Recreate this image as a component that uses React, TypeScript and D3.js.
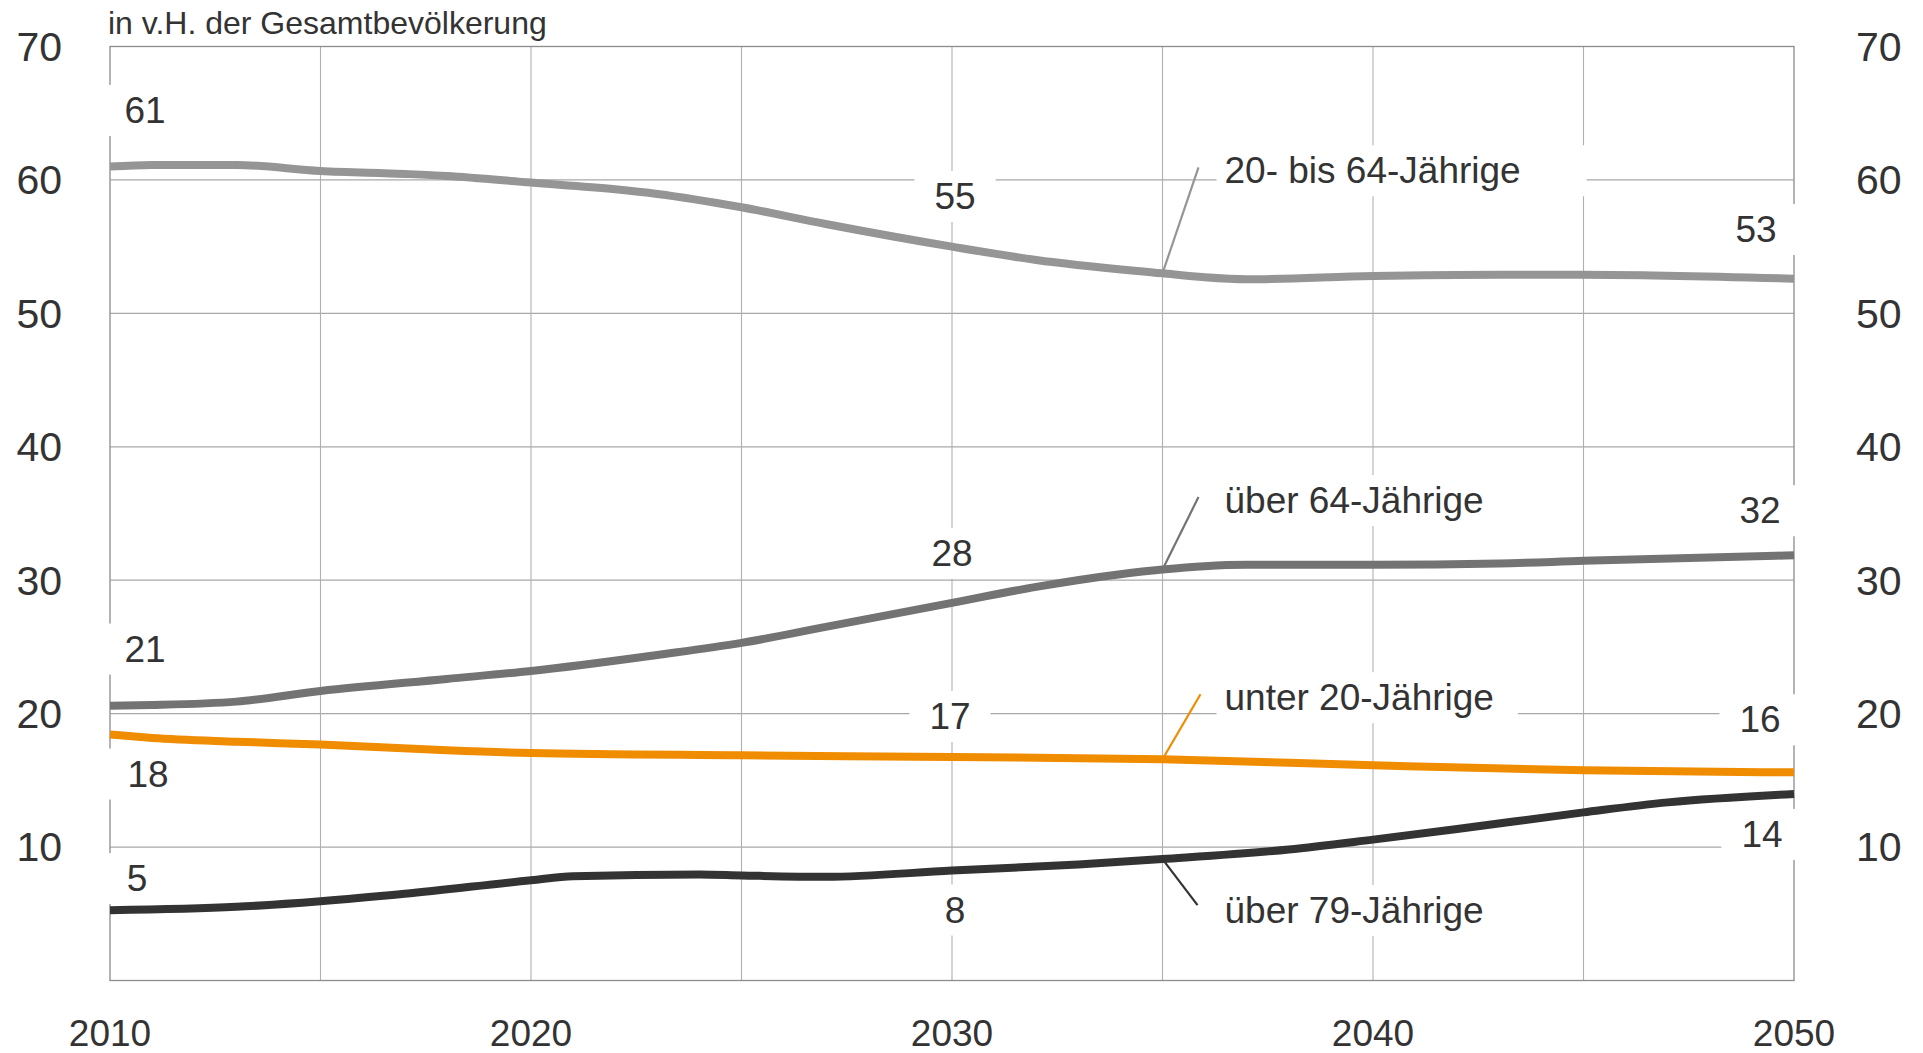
import React, { useEffect, useRef } from "react";
import * as d3 from "d3";

// ---------- DATA ----------
const seriesNames = ["20- bis 64-Jährige", "über 64-Jährige", "unter 20-Jährige", "über 79-Jährige"];
const seriesColors = ["#959595", "#737373", "#f08c00", "#333333"];

const years2064 = [2010, 2011, 2013, 2015, 2017, 2018, 2020, 2022, 2023, 2025, 2027, 2030, 2032, 2035, 2036, 2037, 2040, 2043, 2045, 2050];
const values2064 = [61.0, 61.12, 61.12, 60.67, 60.45, 60.3, 59.8, 59.3, 58.95, 57.95, 56.7, 55.0, 54.0, 53.0, 52.7, 52.55, 52.8, 52.9, 52.9, 52.6];

const years65 = [2010, 2011, 2013, 2015, 2018, 2020, 2023, 2025, 2027, 2030, 2032, 2034, 2035, 2036, 2037, 2040, 2043, 2045, 2050];
const values65 = [20.6, 20.65, 20.9, 21.7, 22.6, 23.2, 24.4, 25.3, 26.5, 28.3, 29.5, 30.45, 30.8, 31.05, 31.15, 31.15, 31.25, 31.45, 31.87];

const years20 = [2010, 2011, 2013, 2015, 2018, 2020, 2025, 2030, 2035, 2040, 2045, 2050];
const values20 = [18.43, 18.18, 17.9, 17.68, 17.25, 17.05, 16.88, 16.75, 16.58, 16.13, 15.75, 15.6];

const years80 = [2010, 2013, 2015, 2017, 2020, 2021, 2024, 2025, 2027, 2030, 2033, 2035, 2038, 2040, 2042, 2045, 2047, 2050];
const values80 = [5.27, 5.52, 5.94, 6.5, 7.51, 7.81, 7.94, 7.87, 7.77, 8.24, 8.7, 9.1, 9.82, 10.56, 11.35, 12.6, 13.35, 13.98];

const seriesYears = [years2064, years65, years20, years80];
const seriesValues = [values2064, values65, values20, values80];

const yTicks = [10, 20, 30, 40, 50, 60, 70];
const yGrid = [10, 20, 30, 40, 50, 60];
const xTickLabels = [2010, 2020, 2030, 2040, 2050];
const xGrid = [2015, 2020, 2025, 2030, 2035, 2040, 2045];

const titleText = "in v.H. der Gesamtbevölkerung";

// data labels: series index, year, text
const dataLabelSeries = [0, 0, 0, 1, 1, 1, 2, 2, 2, 3, 3, 3];
const dataLabelYears = [2010, 2030, 2050, 2010, 2030, 2050, 2010, 2030, 2050, 2010, 2030, 2050];
const dataLabelTexts = ["61", "55", "53", "21", "28", "32", "18", "17", "16", "5", "8", "14"];

// ---------- LAYOUT (placement only) ----------
const W = 1923;
const H = 1053;
const PLOT = { left: 110, right: 1794, top: 46.5, bottom: 980.5 };
const dataLabelOffsets: [number, number][] = [
  [35, -56.6], [3, -50.6], [-38, -49.6],
  [35, -57], [0, -50], [-34, -45],
  [38, 39], [-2, -41], [-34, -53],
  [27, -32], [3, 39], [-32, 40],
];
const seriesLabelYear = 2035;
const seriesLabelDx = 62;
const seriesLabelDy = [-103, -69.5, -62, 51];
const leaderEnd: [number, number][] = [[36, -3], [36, -3], [38, -3], [35, -5]];
const seriesLabelPadRight = [66, 60, 24, 24];

const FONT = "Arial, 'Liberation Sans', Helvetica, sans-serif";
const TEXT = "#333333";

function valueAt(years: number[], values: number[], yr: number) {
  const i = years.indexOf(yr);
  if (i >= 0) return values[i];
  return d3.scaleLinear().domain(years).range(values)(yr);
}

export default function App() {
  const ref = useRef<SVGSVGElement>(null);

  useEffect(() => {
    const svg = d3.select(ref.current);
    svg.selectAll("*").remove();

    const x = d3.scaleLinear().domain([2010, 2050]).range([PLOT.left, PLOT.right]);
    const y = d3.scaleLinear().domain([0, 70]).range([PLOT.bottom, PLOT.top]);

    svg.append("rect").attr("width", W).attr("height", H).attr("fill", "#fff");

    // gridlines
    const g = svg.append("g");
    g.selectAll(".hg").data(yGrid).join("line")
      .attr("x1", PLOT.left).attr("x2", PLOT.right)
      .attr("y1", (d) => y(d)).attr("y2", (d) => y(d))
      .attr("stroke", "#a8a8a8").attr("stroke-width", 1.2);
    g.selectAll(".vg").data(xGrid).join("line")
      .attr("x1", (d) => x(d)).attr("x2", (d) => x(d))
      .attr("y1", PLOT.top).attr("y2", PLOT.bottom)
      .attr("stroke", "#b0b0b0").attr("stroke-width", 1.1);

    // frame
    g.append("rect")
      .attr("x", PLOT.left).attr("y", PLOT.top)
      .attr("width", PLOT.right - PLOT.left).attr("height", PLOT.bottom - PLOT.top)
      .attr("fill", "none").attr("stroke", "#8c8c8c").attr("stroke-width", 1.3);

    // title
    svg.append("text").attr("x", 108).attr("y", 33.5)
      .attr("font-family", FONT).attr("font-size", 32).attr("fill", TEXT)
      .text(titleText);

    // y ticks left/right
    svg.selectAll(".yl").data(yTicks).join("text")
      .attr("x", 62).attr("y", (d) => y(d)).attr("dy", "0.35em")
      .attr("text-anchor", "end").attr("font-family", FONT).attr("font-size", 41).attr("fill", TEXT)
      .text((d) => d);
    svg.selectAll(".yr").data(yTicks).join("text")
      .attr("x", 1856).attr("y", (d) => y(d)).attr("dy", "0.35em")
      .attr("text-anchor", "start").attr("font-family", FONT).attr("font-size", 41).attr("fill", TEXT)
      .text((d) => d);

    // x ticks
    svg.selectAll(".xl").data(xTickLabels).join("text")
      .attr("x", (d) => x(d)).attr("y", 1046)
      .attr("text-anchor", "middle").attr("font-family", FONT).attr("font-size", 37).attr("fill", TEXT)
      .text((d) => d);

    const boxLayer = svg.append("g");
    const textLayer = svg.append("g");

    function addBoxedText(tx: number, ty: number, txt: string, anchor: string, padL: number, padR: number, padY: number) {
      const t = textLayer.append("text")
        .attr("x", tx).attr("y", ty).attr("dy", "0.35em")
        .attr("text-anchor", anchor).attr("font-family", FONT).attr("font-size", 37).attr("fill", TEXT)
        .text(txt);
      const bb = (t.node() as SVGTextElement).getBBox();
      boxLayer.append("rect")
        .attr("x", bb.x - padL).attr("y", bb.y - padY)
        .attr("width", bb.width + padL + padR).attr("height", bb.height + padY * 2)
        .attr("fill", "#fff");
    }

    // data labels
    dataLabelTexts.forEach((txt, i) => {
      const s = dataLabelSeries[i];
      const yr = dataLabelYears[i];
      const v = valueAt(seriesYears[s], seriesValues[s], yr);
      const [dx, dy] = dataLabelOffsets[i];
      addBoxedText(x(yr) + dx, y(v) + dy, txt, "middle", 20, 20, 5);
    });

    // series labels
    seriesNames.forEach((name, i) => {
      const v = valueAt(seriesYears[i], seriesValues[i], seriesLabelYear);
      addBoxedText(x(seriesLabelYear) + seriesLabelDx, y(v) + seriesLabelDy[i], name, "start", 8, seriesLabelPadRight[i], 5);
    });

    // lines
    const line = d3.line<[number, number]>()
      .x((d) => x(d[0])).y((d) => y(d[1]))
      .curve(d3.curveMonotoneX);
    seriesNames.forEach((_, i) => {
      const pts: [number, number][] = seriesYears[i].map((yr, j) => [yr, seriesValues[i][j]]);
      svg.append("path").attr("d", line(pts) as string)
        .attr("fill", "none").attr("stroke", seriesColors[i]).attr("stroke-width", 8)
        .attr("stroke-linejoin", "round");
    });

    // leaders
    seriesNames.forEach((_, i) => {
      const v = valueAt(seriesYears[i], seriesValues[i], seriesLabelYear);
      const x0 = x(seriesLabelYear);
      const y0 = y(v);
      const ly = y0 + seriesLabelDy[i];
      svg.append("line")
        .attr("x1", x0).attr("y1", y0)
        .attr("x2", x0 + leaderEnd[i][0]).attr("y2", ly + leaderEnd[i][1])
        .attr("stroke", seriesColors[i]).attr("stroke-width", 2.2);
    });
  }, []);

  return (
    <svg ref={ref} width={W} height={H}
      style={{ position: "absolute", left: 0, top: 0, display: "block", background: "#fff" }} />
  );
}
